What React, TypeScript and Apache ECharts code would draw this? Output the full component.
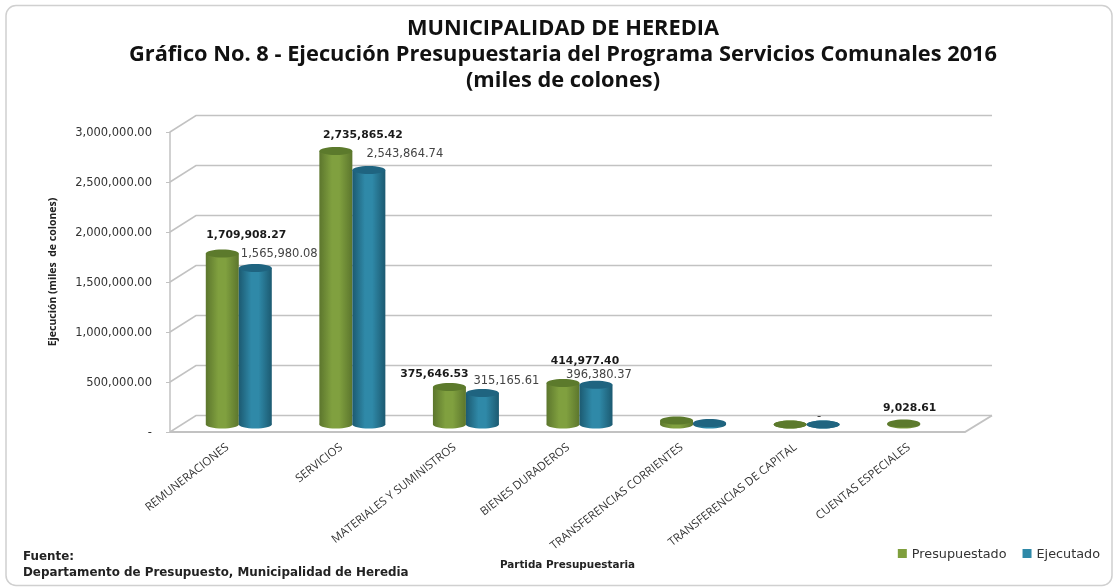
import React, { useEffect, useRef } from "react";
import * as echarts from "echarts";

const titleLines = [
  "MUNICIPALIDAD DE HEREDIA",
  "Gráfico No. 8 - Ejecución Presupuestaria del Programa Servicios Comunales 2016",
  "(miles de colones)",
];
const categories = [
  "REMUNERACIONES",
  "SERVICIOS",
  "MATERIALES Y SUMINISTROS",
  "BIENES DURADEROS",
  "TRANSFERENCIAS CORRIENTES",
  "TRANSFERENCIAS DE CAPITAL",
  "CUENTAS ESPECIALES",
];
const presupuestado = [1709908.27, 2735865.42, 375646.53, 414977.4, 40000, 0, 9028.61];
const ejecutado = [1565980.08, 2543864.74, 315165.61, 396380.37, 15000, 0, null];
const presupuestadoLabels = ["1,709,908.27", "2,735,865.42", "375,646.53", "414,977.40", "", "", "9,028.61"];
const ejecutadoLabels = ["1,565,980.08", "2,543,864.74", "315,165.61", "396,380.37", "", "-", ""];
const wallTicks = [0, 500000, 1000000, 1500000, 2000000, 2500000, 3000000];

const presupuestadoOffsets = [[24, -19], [27, -16], [-15, -13], [22, -23], [0, 0], [0, 0], [6, -16]];
const ejecutadoOffsets = [[24, -15], [36, -17], [24, -13], [3, -11], [0, 0], [-4, -9], [0, 0]];

const DEPTH_X = 26;
const DEPTH_Y = -16.5;
const BAR_W = 33;
const BAR_SHIFT = 12;
const BASE_LIFT = 7.5;
const RY = 4;
const WALL = "#c2c2c2";

const cylinder = (
  side: number,
  dark: string,
  mid: string,
  top: string,
  labels: string[],
  offsets: number[][],
  labelStyle: any,
) => (_p: any, api: any) => {
  const i = api.value(0);
  const v = api.value(1);
  if (v === null || v === undefined || Number.isNaN(v)) return null;
  const base = api.coord([i, 0]);
  const head = api.coord([i, v]);
  const cx = base[0] + BAR_SHIFT + side * (BAR_W / 2);
  const y0 = base[1] - BASE_LIFT;
  const y1 = head[1] - BASE_LIFT;
  const rx = BAR_W / 2;
  const fill = new echarts.graphic.LinearGradient(0, 0, 1, 0, [
    { offset: 0, color: dark },
    { offset: 0.38, color: mid },
    { offset: 0.6, color: mid },
    { offset: 1, color: dark },
  ]);
  const children: any[] = [
    { type: "ellipse", shape: { cx, cy: y0, rx, ry: RY }, style: { fill } },
    { type: "rect", shape: { x: cx - rx, y: y1, width: BAR_W, height: y0 - y1 }, style: { fill } },
    { type: "ellipse", shape: { cx, cy: y1, rx, ry: RY }, style: { fill: top } },
  ];
  if (labels[i]) {
    children.push({
      type: "text",
      style: {
        x: cx + offsets[i][0],
        y: y1 + offsets[i][1],
        text: labels[i],
        align: "center",
        verticalAlign: "middle",
        ...labelStyle,
      },
    });
  }
  return { type: "group", children };
};

export default function App() {
  const ref = useRef<HTMLDivElement>(null);
  useEffect(() => {
    document.body.style.margin = "0";
    document.body.style.background = "#fff";
    const chart = echarts.init(ref.current!, null, { renderer: "svg" });
    chart.setOption({
      animation: false,
      backgroundColor: "#ffffff",
      title: {
        text: titleLines.join("\n"),
        left: 558,
        top: 8,
        textAlign: "center",
        textStyle: { fontFamily: "Open Sans", fontWeight: "bold", fontSize: 21.8, lineHeight: 26, color: "#111" },
      },
      grid: { left: 170, top: 132, width: 795, height: 300 },
      xAxis: {
        type: "category",
        data: categories,
        name: "Partida Presupuestaria",
        nameLocation: "middle",
        nameGap: 127,
        nameTextStyle: { fontFamily: "DejaVu Sans", fontWeight: "bold", fontSize: 10.4, color: "#222" },
        axisLine: { show: false },
        axisTick: { show: false },
        axisLabel: {
          interval: 0,
          rotate: 38,
          margin: 13,
          fontFamily: "Open Sans",
          fontSize: 11.5,
          color: "#333",
        },
      },
      yAxis: {
        type: "value",
        min: 0,
        max: 3000000,
        interval: 500000,
        axisLine: { show: true, lineStyle: { color: WALL, width: 1.5 } },
        axisTick: { show: true, length: 4, lineStyle: { color: WALL } },
        splitLine: { show: false },
        axisLabel: {
          margin: 18,
          padding: [3, 0, 0, 0],
          fontFamily: "DejaVu Sans",
          fontSize: 11.5,
          color: "#333",
          formatter: (v: number) =>
            v === 0 ? "-" : v.toLocaleString("en-US", { minimumFractionDigits: 2, maximumFractionDigits: 2 }),
        },
      },
      legend: {
        data: ["Presupuestado", "Ejecutado"],
        right: 10,
        top: 542,
        itemWidth: 9,
        itemHeight: 9,
        itemGap: 16,
        icon: "rect",
        textStyle: { fontFamily: "DejaVu Sans", fontSize: 12.8, color: "#333" },
      },
      graphic: [
        {
          type: "rect",
          z: -1,
          shape: { x: 6, y: 5.5, width: 1106, height: 580, r: 10 },
          style: { fill: "none", stroke: "#d0d0d0", lineWidth: 1.5 },
        },
        {
          type: "text",
          left: 23,
          top: 548,
          style: {
            text: "Fuente:\nDepartamento de Presupuesto, Municipalidad de Heredia",
            fontFamily: "DejaVu Sans",
            fontWeight: "bold",
            fontSize: 11.9,
            lineHeight: 16,
            fill: "#222",
          },
        },
        {
          type: "text",
          x: 52,
          y: 272,
          rotation: Math.PI / 2,
          style: {
            text: "Ejecución (miles  de colones)",
            x: 0,
            y: 0,
            align: "center",
            verticalAlign: "middle",
            fontFamily: "Open Sans",
            fontWeight: "bold",
            fontSize: 10.5,
            fill: "#222",
          },
        },
      ],
      series: [
        {
          type: "custom",
          name: "wall",
          silent: true,
          z: 1,
          data: wallTicks.map((v) => [0, v]),
          renderItem: (p: any, api: any) => {
            const y = api.coord([0, api.value(1)])[1];
            const x0 = p.coordSys.x;
            const x1 = x0 + p.coordSys.width;
            const style = { stroke: WALL, lineWidth: 1.5, fill: "none" };
            const children: any[] = [
              {
                type: "polyline",
                shape: { points: [[x0, y], [x0 + DEPTH_X, y + DEPTH_Y], [x1 + DEPTH_X + 1, y + DEPTH_Y]] },
                style,
              },
            ];
            if (api.value(1) === 0) {
              children.push({
                type: "polyline",
                shape: { points: [[x0, y], [x1, y], [x1 + DEPTH_X + 1, y + DEPTH_Y]] },
                style: { ...style, lineWidth: 2 },
              });
            }
            return { type: "group", children };
          },
        },
        {
          type: "custom",
          name: "Presupuestado",
          z: 2,
          itemStyle: { color: "#7f9f3d" },
          data: presupuestado.map((v, i) => [i, v]),
          renderItem: cylinder(-1, "#5c762d", "#80a03f", "#5c7a2c", presupuestadoLabels, presupuestadoOffsets, {
            fontFamily: "DejaVu Sans",
            fontWeight: "bold",
            fontSize: 10.8,
            fill: "#1a1a1a",
          }),
        },
        {
          type: "custom",
          name: "Ejecutado",
          z: 3,
          itemStyle: { color: "#2f89a8" },
          data: ejecutado.map((v, i) => [i, v]),
          renderItem: cylinder(1, "#1c5a71", "#2f89a8", "#1f6480", ejecutadoLabels, ejecutadoOffsets, {
            fontFamily: "DejaVu Sans",
            fontSize: 11.5,
            fill: "#444",
          }),
        },
      ],
    });
    return () => chart.dispose();
  }, []);
  return <div ref={ref} style={{ width: 1115, height: 588, filter: "blur(0.4px)" }} />;
}
